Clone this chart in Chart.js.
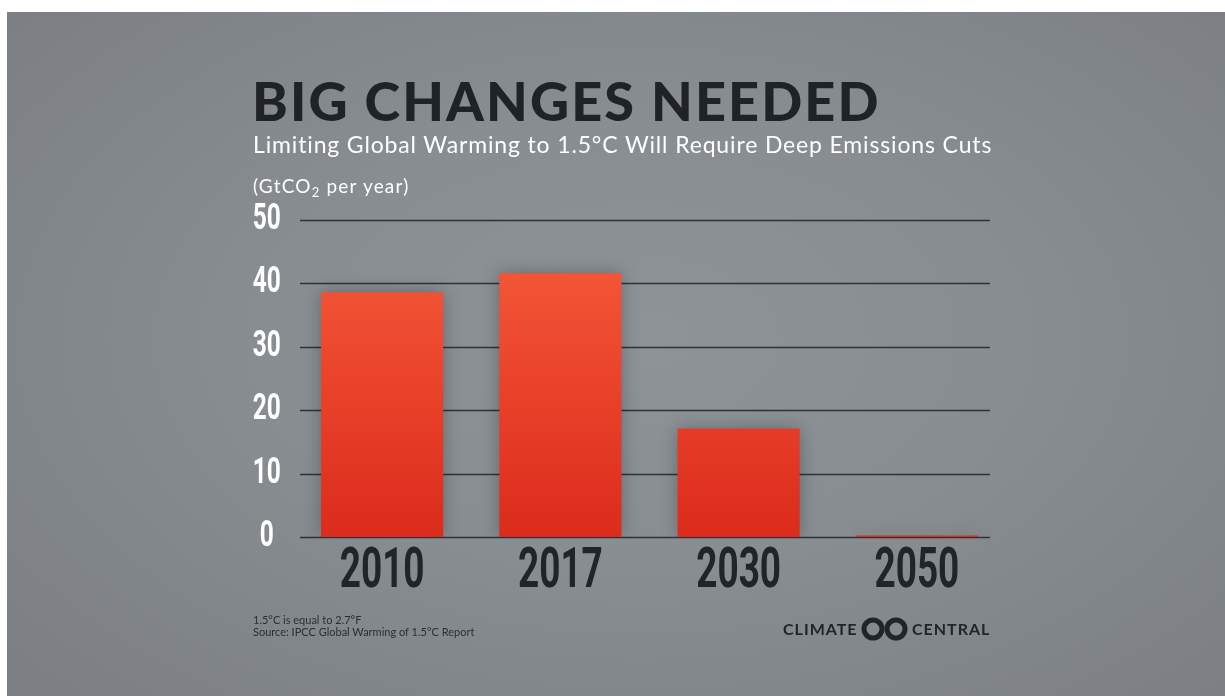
<!DOCTYPE html>
<html><head><meta charset="utf-8">
<script src="https://cdn.jsdelivr.net/npm/chart.js@4.4.1/dist/chart.umd.min.js"></script>
<style>
html,body{margin:0;padding:0;width:1225px;height:696px;overflow:hidden;background:#fff;}
#bg{position:absolute;left:7px;top:12px;width:1218px;height:684px;background:radial-gradient(ellipse 70% 75% at 52% 48%, #8e9398 0%, #888d92 45%, #7b7f83 100%);}
#c{position:absolute;left:0;top:0;}
.t{position:absolute;white-space:nowrap;line-height:1;font-family:Lato,"Open Sans",sans-serif;}
</style></head><body>
<div id="bg"></div>
<canvas id="c" width="1225" height="696"></canvas>
<div class="t" style="left:252px;top:74px;font-size:54px;font-weight:900;letter-spacing:2.1px;color:#1f2226;">BIG CHANGES NEEDED</div>
<div class="t" style="left:253px;top:133px;font-size:23px;font-weight:400;letter-spacing:0.85px;color:#ffffff;">Limiting Global Warming to 1.5°C Will Require Deep Emissions Cuts</div>
<div class="t" style="left:253px;top:176px;font-size:19px;font-weight:400;letter-spacing:1.2px;color:#ffffff;">(GtCO<sub style="font-size:13px;vertical-align:-4px;">2</sub> per year)</div>
<div class="t" style="left:253px;top:614px;font-size:11px;color:#2b2f33;line-height:12px;">1.5°C is equal to 2.7°F<br>Source: IPCC Global Warming of 1.5°C Report</div>
<div class="t" style="left:783px;top:621px;font-size:16px;font-weight:700;letter-spacing:1px;color:#222528;">CLIMATE</div>
<svg style="position:absolute;left:861px;top:617px;" width="47" height="24" viewBox="0 0 47 24">
<circle cx="12" cy="12" r="9" fill="none" stroke="#222528" stroke-width="5"/>
<circle cx="35" cy="12" r="9" fill="none" stroke="#222528" stroke-width="5"/>
</svg>
<div class="t" style="left:912px;top:621px;font-size:16px;font-weight:700;letter-spacing:1px;color:#222528;">CENTRAL</div>
<script>
const categories = ['2010', '2017', '2030', '2050'];
const emissions = [38.6, 41.6, 17.1, 0.25];
const yTicks = [0, 10, 20, 30, 40, 50];

const tickFamily = "Roboto, 'DejaVu Sans', sans-serif";

const gridPlugin = {
  id: 'customGrid',
  beforeDatasetsDraw(chart, args, opts) {
    const ys = chart.scales.y;
    const c = chart.ctx;
    c.save();
    c.strokeStyle = opts.color;
    c.lineWidth = opts.width;
    ys.ticks.forEach(t => {
      const y = Math.round(ys.getPixelForValue(t.value)) + 0.5;
      c.beginPath();
      c.moveTo(opts.x0, y);
      c.lineTo(opts.x1, y);
      c.stroke();
    });
    c.restore();
    c.save();
    c.shadowColor = 'rgba(0,0,0,0.28)';
    c.shadowBlur = 16;
  },
  afterDatasetsDraw(chart) {
    chart.ctx.restore();
  }
};

// horizontally compress the tick labels to mimic a condensed typeface
const narrowPlugin = {
  id: 'narrowLabels',
  afterLayout(chart, args, opts) {
    Object.values(chart.scales).forEach(s => {
      const sx = opts[s.id];
      if (!sx || s._narrowed) return;
      s._narrowed = true;
      const origItems = s.getLabelItems.bind(s);
      const origDraw = s.drawLabels.bind(s);
      s._computeLabelArea = () => undefined;
      s.getLabelItems = function (ca) {
        return origItems(ca).map(it => Object.assign({}, it, {
          options: Object.assign({}, it.options, {
            translation: [it.options.translation[0] / sx, it.options.translation[1]]
          })
        }));
      };
      s.drawLabels = function (ca) {
        const c = this.ctx;
        c.save();
        c.scale(sx, 1);
        origDraw(ca);
        c.restore();
      };
    });
  }
};

new Chart(document.getElementById('c'), {
  type: 'bar',
  data: {
    labels: categories,
    datasets: [{
      data: emissions,
      backgroundColor: (ctx) => {
        const ch = ctx.chart;
        const area = ch.chartArea;
        if (!area) return '#e8432a';
        const g = ch.ctx.createLinearGradient(0, area.top, 0, area.bottom);
        g.addColorStop(0, '#f85d3b');
        g.addColorStop(1, '#db2b1c');
        return g;
      },
      borderWidth: 0,
      categoryPercentage: 1,
      barPercentage: 0.685
    }]
  },
  options: {
    responsive: false,
    animation: false,
    layout: { padding: { left: 193, right: 219, top: 220, bottom: 99 } },
    plugins: {
      legend: { display: false },
      tooltip: { enabled: false },
      customGrid: { x0: 300, x1: 990, color: 'rgba(30,34,38,0.85)', width: 1.5 },
      narrowLabels: { x: 0.66, y: 0.68 }
    },
    scales: {
      x: {
        grid: { display: false },
        border: { display: false },
        afterFit(s) { s.height = 60; },
        ticks: {
          color: '#212529',
          padding: 0,
          font: { family: tickFamily, weight: 'bold', size: 56, lineHeight: 1 }
        }
      },
      y: {
        min: 0, max: 50,
        afterBuildTicks(s) { s.ticks = yTicks.map(v => ({ value: v })); },
        afterFit(s) { s.width = 100; },
        grid: { display: false },
        border: { display: false },
        ticks: {
          color: '#ffffff',
          crossAlign: 'center',
          padding: -2.5,
          font: { family: tickFamily, weight: 'bold', size: 36, lineHeight: 1 }
        }
      }
    }
  },
  plugins: [gridPlugin, narrowPlugin]
});
</script>
</body></html>
